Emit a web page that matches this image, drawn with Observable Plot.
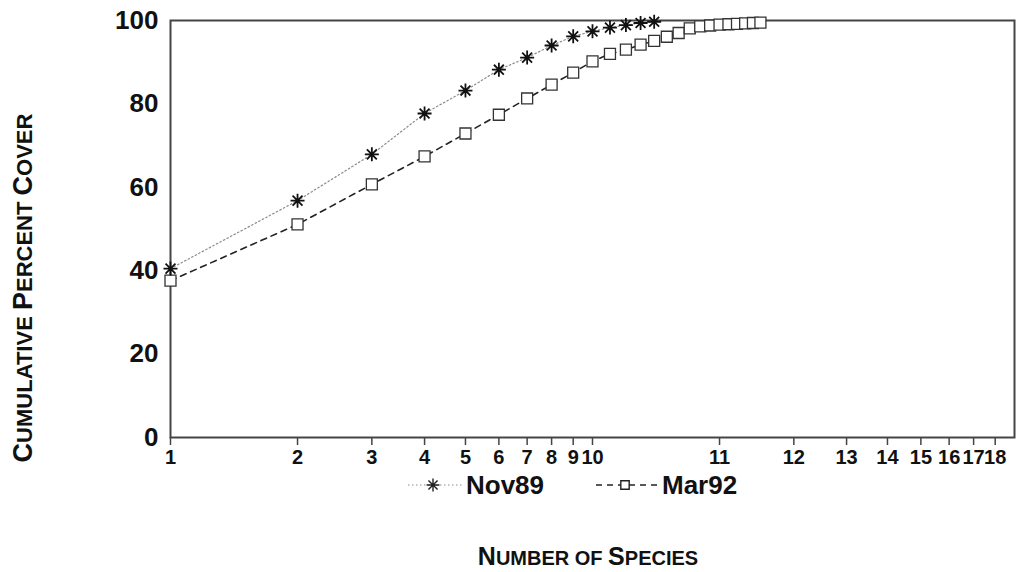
<!DOCTYPE html>
<html>
<head>
<meta charset="utf-8">
<script src="https://cdn.jsdelivr.net/npm/d3@7"></script>
<script src="https://cdn.jsdelivr.net/npm/@observablehq/plot@0.6"></script>
<style>
  body { margin: 0; background: #fff; }
  #wrap { position: relative; width: 1017px; height: 572px; overflow: hidden; font-family: "Liberation Sans", Arial, sans-serif; color: #111; }
  #chart { position: absolute; left: 0; top: 0; }
  .ytitle { position: absolute; left: 23px; top: 288px; transform: translate(-50%, -50%) rotate(-90deg); white-space: nowrap; font-weight: bold; line-height: 1; }
  .ytitle .big { font-size: 27px; }
  .ytitle .small { font-size: 22px; }
  .xtitle { position: absolute; left: 588px; top: 544px; transform: translateX(-50%); white-space: nowrap; font-weight: bold; line-height: 1; }
  .xtitle .big { font-size: 25px; }
  .xtitle .small { font-size: 20px; }
  .legend-item { position: absolute; top: 470px; height: 30px; display: flex; align-items: center; font-weight: bold; font-size: 26px; white-space: nowrap; }
  .legend-item svg { margin-right: 4px; }
</style>
</head>
<body>
<div id="wrap">
  <div id="chart"></div>
  <div class="ytitle"><span class="big">C</span><span class="small">UMULATIVE </span><span class="big">P</span><span class="small">ERCENT </span><span class="big">C</span><span class="small">OVER</span></div>
  <div class="xtitle"><span class="big">N</span><span class="small">UMBER OF </span><span class="big">S</span><span class="small">PECIES</span></div>
  <div class="legend-item" id="leg0" style="left:408px"></div>
  <div class="legend-item" id="leg1" style="left:596px"></div>
</div>
<script>
// ---- data ----
const seriesNames = ["Nov89", "Mar92"];
const nov89Species = [1, 2, 3, 4, 5, 6, 7, 8, 9, 10, 11, 12, 13, 14];
const nov89Cover = [40.5, 56.8, 67.9, 77.7, 83.2, 88.2, 91.1, 94.0, 96.2, 97.4, 98.3, 98.9, 99.4, 99.7];
const mar92Species = [1, 2, 3, 4, 5, 6, 7, 8, 9, 10, 11, 12, 13, 14, 15, 16, 17, 18, 19, 20, 21, 22, 23, 24, 25];
const mar92Cover = [37.6, 51.1, 60.7, 67.4, 72.9, 77.4, 81.3, 84.6, 87.5, 90.2, 92.0, 93.0, 94.2, 95.1, 96.1, 97.0, 98.1, 98.6, 98.8, 99.0, 99.1, 99.2, 99.3, 99.4, 99.5];
const xTickValues = [1, 2, 3, 4, 5, 6, 7, 8, 9, 10, 20, 30, 40, 50, 60, 70, 80, 90];
const xTickLabels = ["1", "2", "3", "4", "5", "6", "7", "8", "9", "10", "11", "12", "13", "14", "15", "16", "17", "18"];
const yTickValues = [0, 20, 40, 60, 80, 100];

const nov = nov89Species.map((s, i) => ({species: s, cover: nov89Cover[i]}));
const mar = mar92Species.map((s, i) => ({species: s, cover: mar92Cover[i]}));
const xTicks = xTickValues.map((v, i) => ({value: v, label: xTickLabels[i]}));

const font = "Liberation Sans, Arial, sans-serif";

// eight-armed asterisk symbol
const asterisk8 = {
  draw(context, size) {
    const r = Math.sqrt(size / Math.PI);
    for (let k = 0; k < 4; k++) {
      const a = k * Math.PI / 4;
      const c = Math.cos(a) * r, s = Math.sin(a) * r;
      context.moveTo(c, s);
      context.lineTo(-c, -s);
    }
  }
};

const plot = Plot.plot({
  width: 1017,
  height: 462,
  marginLeft: 170,
  marginRight: 3,
  marginTop: 20,
  marginBottom: 25,
  style: {background: "#fff", color: "#111", overflow: "visible"},
  x: {type: "log", domain: [1, 100]},
  y: {domain: [0, 100]},
  marks: [
    Plot.axisX({ticks: xTickValues, tickFormat: () => "", tickSize: 8, label: null, stroke: "#444", strokeWidth: 1.5}),
    Plot.text(xTicks, {x: "value", text: "label", frameAnchor: "bottom", lineAnchor: "top", dy: 12,
      fontSize: 20, fontWeight: "bold", fontFamily: font, fill: "#111"}),
    Plot.axisY({ticks: yTickValues, tickSize: 0, tickPadding: 12, label: null,
      fontSize: 26, fontWeight: "bold", fontFamily: font}),
    Plot.frame({stroke: "#444", strokeWidth: 2}),
    Plot.line(nov, {x: "species", y: "cover", stroke: "#8a8a8a", strokeWidth: 1.2, strokeDasharray: "1.5,2.5"}),
    Plot.line(mar, {x: "species", y: "cover", stroke: "#222", strokeWidth: 1.6, strokeDasharray: "6,5"}),
    Plot.dot(mar, {x: "species", y: "cover", symbol: "square", r: 6.2, stroke: "#333", strokeWidth: 1.3, fill: "#fff"}),
    Plot.dot(nov, {x: "species", y: "cover", symbol: asterisk8, r: 7, stroke: "#111", strokeWidth: 1.8})
  ]
});
document.getElementById("chart").appendChild(plot);

// ---- legend ----
function swatch(el, dash, color, symbolType, name, w, size, sw) {
  const svg = d3.select(el).append("svg").attr("width", w).attr("height", 30);
  svg.append("line").attr("x1", 0).attr("x2", w).attr("y1", 15).attr("y2", 15)
    .attr("stroke", color).attr("stroke-width", sw).attr("stroke-dasharray", dash);
  const sym = d3.symbol(symbolType, size)();
  svg.append("path").attr("d", sym).attr("transform", `translate(${w / 2 - 2},15)`)
    .attr("fill", symbolType === d3.symbolSquare ? "#fff" : "none").attr("stroke", "#222").attr("stroke-width", 1.4);
  d3.select(el).append("span").text(name);
}
swatch("#leg0", "1.5,2.5", "#8a8a8a", asterisk8, seriesNames[0], 54, 130, 1.2);
swatch("#leg1", "6,5", "#222", d3.symbolSquare, seriesNames[1], 62, 70, 1.6);
</script>
</body>
</html>
